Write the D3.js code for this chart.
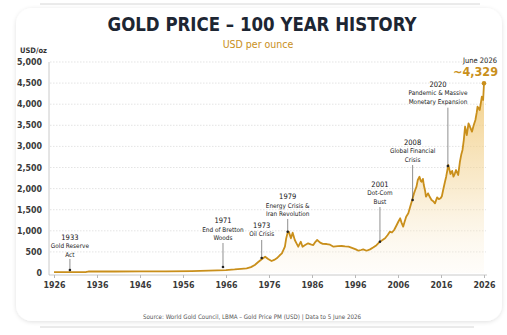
<!DOCTYPE html>
<html>
<head>
<meta charset="utf-8">
<script src="https://cdn.jsdelivr.net/npm/d3@7"></script>
<style>
  html, body { margin: 0; padding: 0; background: #fff; }
  svg { display: block; font-family: "Liberation Sans Narrow", "DejaVu Sans Condensed", "Roboto", sans-serif; }
</style>
</head>
<body>
<div id="chart"></div>
<script>
// Gold price chart (x = position in years on the axis)
const years = [1926, 1928, 1931, 1933.5, 1934, 1940, 1946, 1952, 1958, 1962, 1966, 1968, 1969.5, 1970.8, 1971.8,
  1972.7, 1973.5, 1974.3, 1975.1, 1975.8, 1976.6, 1977.2, 1977.8, 1978.5, 1979, 1979.7, 1980, 1980.3, 1980.6,
  1981.1, 1981.5, 1982, 1982.4, 1982.8, 1983.4, 1983.8, 1984.4, 1985.1, 1985.7, 1986.3, 1986.8, 1987.2, 1987.9,
  1988.5, 1989.4, 1990.2, 1991, 1992, 1992.9, 1993.7, 1994.5, 1995.6, 1996.2, 1996.8, 1997.4, 1997.9, 1998.7,
  1999.5, 2000.3, 2001, 2001.8, 2002.4, 2003, 2003.6, 2004.1, 2004.6, 2005.1, 2005.7, 2006.1, 2006.5, 2006.8,
  2007.2, 2007.5, 2007.9, 2008.4, 2008.8, 2009.3, 2009.7, 2010, 2010.3, 2010.6, 2011, 2011.3, 2011.5, 2011.8,
  2012, 2012.3, 2012.5, 2013, 2013.4, 2013.8, 2014.2, 2014.6, 2015.1, 2015.5, 2015.9, 2016.2, 2016.5, 2016.9,
  2017.2, 2017.7, 2018.2, 2018.6, 2018.9, 2019.2, 2019.5, 2020, 2020.4, 2020.7, 2021, 2021.3, 2021.6, 2022,
  2022.4, 2022.8, 2023.2, 2023.6, 2024, 2024.3, 2024.5, 2025, 2025.3, 2025.5, 2025.8, 2026];
const prices = [20, 20, 21, 24, 35, 35, 38, 40, 45, 55, 70, 85, 100, 110, 140,
  190, 260, 325, 386, 330, 284, 310, 348, 420, 466, 623, 820, 940, 980,
  822, 955, 782, 703, 623, 742, 623, 663, 703, 680, 663, 740, 782, 720,
  690, 687, 670, 623, 635, 640, 630, 623, 585, 560, 528, 545, 561, 528,
  560, 609, 660, 742, 780, 822, 900, 980, 960, 1019, 1137, 1220, 1296, 1200,
  1098, 1200, 1335, 1415, 1560, 1730, 1880, 1967, 2045, 2204, 2282, 2180, 2164, 2230,
  2085, 1950, 1808, 1888, 1800, 1730, 1700, 1651, 1793, 1750, 1770, 1820, 1967, 2150,
  2282, 2559, 2346, 2420, 2282, 2350, 2441, 2322, 2637, 2800, 2915, 3150, 3467, 3270,
  3547, 3450, 3349, 3500, 3626, 3800, 3941, 3863, 4050, 4178, 4100, 4495];

const yTicks = [0, 500, 1000, 1500, 2000, 2500, 3000, 3500, 4000, 4500, 5000];
const xTicks = [1926, 1936, 1946, 1956, 1966, 1976, 1986, 1996, 2006, 2016, 2026];

// events: label year, text lines, arrow position (axis years), text x, label / arrow top / tip values
const eventYears = ['1933', '1971', '1973', '1979', '2001', '2008', '2020'];
const eventLines = [['Gold Reserve', 'Act'], ['End of Bretton', 'Woods'], ['Oil Crisis'],
  ['Energy Crisis &', 'Iran Revolution'], ['Dot-Com', 'Bust'], ['Global Financial', 'Crisis'],
  ['Pandemic & Massive', 'Monetary Expansion']];
const eventAt = [1929.7, 1965.3, 1974.3, 1980.35, 2001.8, 2009.4, 2017.6];
const eventTextAt = [1929.7, 1965.3, 1974.3, 1980.35, 2001.8, 2009.4, 2015.3];
const eventLabelV = [793, 1180, 1078, 1749, 2043, 3045, 4412];
const eventTopV = [332, 711, 782, 1280, 1564, 2559, 3917];
const eventTipV = [71, 142, 355, 979, 742, 1730, 2535];

const W = 507, H = 335;
const gold = '#c98f1b';
const ink = '#1d2633';

const svg = d3.select('#chart').append('svg')
  .attr('width', W)
  .attr('height', H)
  .attr('viewBox', `0 0 ${W} ${H}`);

const defs = svg.append('defs');
const grad = defs.append('linearGradient')
  .attr('id', 'areaFill')
  .attr('x1', 0).attr('y1', 0).attr('x2', 0).attr('y2', 1);
grad.append('stop').attr('offset', '0%').attr('stop-color', '#efc266').attr('stop-opacity', 0.8);
grad.append('stop').attr('offset', '55%').attr('stop-color', '#f4d89f').attr('stop-opacity', 0.5);
grad.append('stop').attr('offset', '100%').attr('stop-color', '#fbf0dc').attr('stop-opacity', 0.15);

const shadow = defs.append('filter').attr('id', 'cardShadow')
  .attr('x', '-5%').attr('y', '-5%').attr('width', '110%').attr('height', '110%');
shadow.append('feDropShadow').attr('dx', 0).attr('dy', 1).attr('stdDeviation', 2)
  .attr('flood-color', '#000').attr('flood-opacity', 0.12);

// frame
svg.append('line').attr('x1', 40).attr('x2', 480).attr('y1', 4).attr('y2', 4)
  .attr('stroke', '#d6d6d6').attr('stroke-width', 1);
svg.append('line').attr('x1', 40).attr('x2', 474).attr('y1', 327).attr('y2', 327)
  .attr('stroke', '#d6d6d6').attr('stroke-width', 1);
svg.append('rect')
  .attr('x', 16).attr('y', 8).attr('width', 486).attr('height', 313).attr('rx', 16)
  .attr('fill', '#fff')
  .attr('filter', 'url(#cardShadow)');

const x = d3.scaleLinear().domain([1926, 2026]).range([54, 484]);
const y = d3.scaleLinear().domain([0, 5000]).range([273, 62]);

// titles
svg.append('text')
  .attr('x', 262).attr('y', 30.5)
  .attr('text-anchor', 'middle')
  .attr('font-family', '"DejaVu Sans Condensed", "Liberation Sans Narrow", sans-serif')
  .attr('font-weight', 'bold')
  .attr('font-size', 19.5)
  .attr('fill', ink)
  .attr('textLength', 309)
  .attr('lengthAdjust', 'spacingAndGlyphs')
  .text('GOLD PRICE – 100 YEAR HISTORY');

svg.append('text')
  .attr('x', 258).attr('y', 48)
  .attr('text-anchor', 'middle')
  .attr('font-size', 10.5)
  .attr('fill', gold)
  .text('USD per ounce');

svg.append('text')
  .attr('x', 20).attr('y', 52.5)
  .attr('font-size', 7.5)
  .attr('font-weight', 'bold')
  .attr('fill', '#333')
  .text('USD/oz');

// grid
svg.append('g').selectAll('line')
  .data(yTicks.filter(d => d > 0))
  .enter().append('line')
  .attr('x1', 50).attr('x2', 486)
  .attr('y1', d => y(d)).attr('y2', d => y(d))
  .attr('stroke', '#d9d9d9')
  .attr('stroke-width', 0.7)
  .attr('stroke-dasharray', '1.5,1.5');

// y axis
svg.append('line').attr('x1', 49).attr('x2', 49).attr('y1', 62).attr('y2', 275)
  .attr('stroke', '#bdbdbd').attr('stroke-width', 0.8);
svg.append('g').selectAll('text')
  .data(yTicks)
  .enter().append('text')
  .attr('x', 42).attr('y', d => y(d) + 3)
  .attr('text-anchor', 'end')
  .attr('font-size', 8.8)
  .attr('font-weight', 'bold')
  .attr('fill', '#3a3a3a')
  .text(d => d3.format(',')(d));

// x axis
const xAxis = svg.append('g')
  .attr('transform', 'translate(0,275)')
  .call(d3.axisBottom(x).tickValues(xTicks).tickFormat(d3.format('d')).tickSize(3).tickPadding(4));
xAxis.select('.domain').remove();
xAxis.selectAll('.tick line').attr('stroke', '#999').attr('stroke-width', 0.7);
xAxis.selectAll('.tick text')
  .attr('font-family', '"Liberation Sans Narrow", "DejaVu Sans Condensed", sans-serif')
  .attr('font-size', 8.8)
  .attr('font-weight', 'bold')
  .attr('fill', '#3a3a3a');
xAxis.append('line').attr('x1', 49).attr('x2', 487).attr('y1', 0).attr('y2', 0)
  .attr('stroke', '#bdbdbd').attr('stroke-width', 0.8);

// area + line
const series = years.map((yr, i) => ({ yr, v: prices[i] }));
svg.append('path')
  .datum(series)
  .attr('fill', 'url(#areaFill)')
  .attr('d', d3.area().x(d => x(d.yr)).y0(y(0)).y1(d => y(d.v)));
svg.append('path')
  .datum(series)
  .attr('fill', 'none')
  .attr('stroke', gold)
  .attr('stroke-width', 1.8)
  .attr('stroke-linejoin', 'round')
  .attr('d', d3.line().x(d => x(d.yr)).y(d => y(d.v)));

// events
const ev = svg.append('g').selectAll('g')
  .data(eventYears.map((yr, i) => ({
    yr, lines: eventLines[i], at: eventAt[i], tx: eventTextAt[i],
    label: eventLabelV[i], top: eventTopV[i], tip: eventTipV[i]
  })))
  .enter().append('g');

ev.append('line')
  .attr('x1', d => x(d.at)).attr('x2', d => x(d.at))
  .attr('y1', d => y(d.top)).attr('y2', d => y(d.tip))
  .attr('stroke', '#444').attr('stroke-width', 0.6);
ev.append('circle')
  .attr('cx', d => x(d.at)).attr('cy', d => y(d.tip))
  .attr('r', 1.3).attr('fill', '#222');
ev.append('text')
  .attr('x', d => x(d.tx)).attr('y', d => y(d.label))
  .attr('text-anchor', 'middle')
  .attr('font-size', 7.5)
  .attr('fill', '#111')
  .text(d => d.yr);
ev.each(function (d) {
  d3.select(this).selectAll('.desc')
    .data(d.lines)
    .enter().append('text')
    .attr('class', 'desc')
    .attr('x', x(d.tx))
    .attr('y', (t, j) => y(d.label) + 8.5 * (j + 1))
    .attr('text-anchor', 'middle')
    .attr('font-size', 6.4)
    .attr('fill', '#222')
    .text(t => t);
});

// end point
const last = series[series.length - 1];
svg.append('circle')
  .attr('cx', x(last.yr)).attr('cy', y(last.v))
  .attr('r', 2.3).attr('fill', gold);
svg.append('text')
  .attr('x', 497).attr('y', 62.5)
  .attr('text-anchor', 'end')
  .attr('font-size', 7.5)
  .attr('fill', '#222')
  .text('June 2026');
svg.append('text')
  .attr('x', 498).attr('y', 76)
  .attr('text-anchor', 'end')
  .attr('font-size', 12.5)
  .attr('font-weight', 'bold')
  .attr('fill', gold)
  .text('~4,329');

// source
svg.append('text')
  .attr('x', 252).attr('y', 319)
  .attr('text-anchor', 'middle')
  .attr('font-size', 6.2)
  .attr('fill', '#555')
  .text('Source: World Gold Council, LBMA – Gold Price PM (USD) | Data to 5 June 2026');
</script>
</body>
</html>
